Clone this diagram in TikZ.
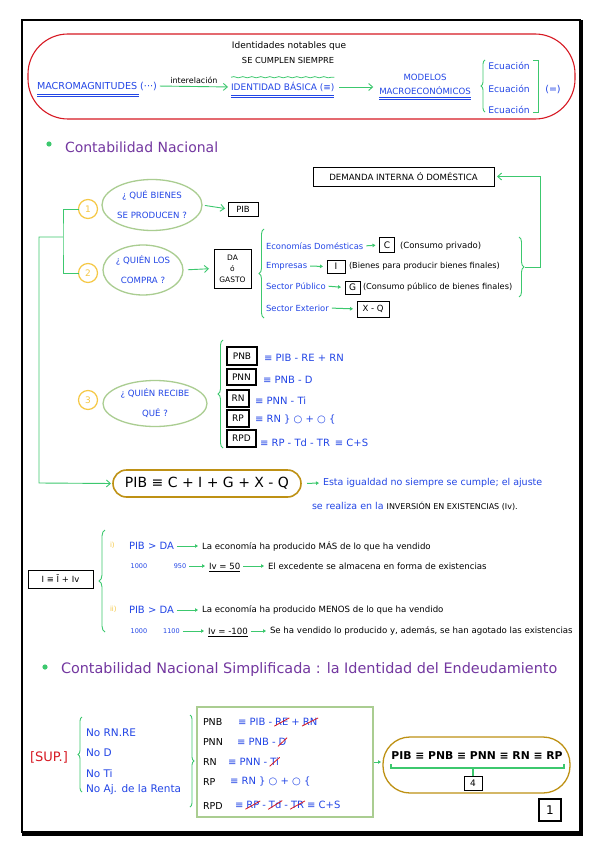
\documentclass[tikz,border=0pt]{standalone}
\usepackage{fontspec}
\setmainfont{DejaVu Sans}
\usetikzlibrary{arrows.meta,shapes.geometric,decorations.pathreplacing,decorations.pathmorphing,calc}
\definecolor{cblue}{RGB}{35,70,230}
\definecolor{cgreen}{RGB}{60,200,110}
\definecolor{csage}{RGB}{170,205,145}
\definecolor{cyel}{RGB}{245,200,70}
\definecolor{cgold}{RGB}{190,145,20}
\definecolor{cpurp}{RGB}{115,55,160}
\definecolor{cred}{RGB}{215,25,35}
\newcommand\fs[2]{\fontsize{#1}{#2}\selectfont}
\begin{document}
\begin{tikzpicture}[x=1pt,y=-1pt,
  every node/.style={inner sep=0pt,outer sep=0pt},
  blu/.style={text=cblue},
  gl/.style={draw=cgreen,line width=0.9pt},
  ga/.style={gl,-{Straight Barb[length=4pt,width=7pt]}},
  sa/.style={draw=cgreen,line width=1pt,-{Triangle[length=3pt,width=3.5pt]},shorten <=3pt,shorten >=4pt},
  box/.style={draw=black,line width=0.9pt},
  tbox/.style={draw=black,line width=1.4pt,font=\fs{9}{9}},
  qell/.style={ellipse,draw=csage,line width=1.3pt,text=cblue,align=center},
  num/.style={circle,draw=cyel,line width=1.2pt,text=cyel,minimum size=19pt,font=\fs{9}{9}},
  brl/.style={draw=cgreen,line width=0.9pt,decorate,decoration={brace,amplitude=5pt}},
  strike/.style={draw=cred,line width=0.8pt,shorten <=-1pt,shorten >=-1pt},
  ul/.style={draw=cblue,line width=0.8pt},
  eqt/.style={blu,font=\fs{10}{10}},
  blk/.style={font=\fs{8.6}{9}},
]
\useasboundingbox (0,0) rectangle (600,848);
\fill[white] (0,0) rectangle (600,848);
% page frame
\draw[line width=1.5pt] (22,20) rectangle (580,832);
\draw[line width=4pt] (581,20) -- (581,834) -- (22,834);

% ---------------- top red box
\draw[cred,line width=1.1pt,rounded corners=40pt] (28,34) rectangle (575,119);
\node[font=\fs{9}{9}] (idn) at (289,46) {Identidades notables que};
\node[font=\fs{8.3}{8}] (sce) at (288,60) {SE CUMPLEN SIEMPRE};
\node[blu,font=\fs{9.6}{9},anchor=west] (macro) at (37,86) {MACROMAGNITUDES (···)};
\draw[ul] ([yshift=-4pt]macro.south west) -- ([yshift=-4pt,xshift=-18pt]macro.south east);
\draw[ul] ([yshift=-6pt]macro.south west) -- ([yshift=-6pt,xshift=-18pt]macro.south east);
\node[blu,font=\fs{9}{9},anchor=west] (ident) at (231,87) {IDENTIDAD BÁSICA (≡)};
\draw[ga,shorten <=3pt,shorten >=3pt] (macro.east) -- node[above=3pt,font=\fs{8}{8}] (inter) {interelación} (ident.west);
\draw[cgreen,line width=0.8pt,decorate,decoration={snake,amplitude=0.6pt,segment length=9pt}] ([yshift=5pt]ident.north west) -- ([yshift=5pt]ident.north east);
\draw[ul] ([yshift=-4pt]ident.south west) -- ([yshift=-4pt]ident.south east);
\draw[ul] ([yshift=-6pt]ident.south west) -- ([yshift=-6pt]ident.south east);
\node[blu,font=\fs{8.6}{14},align=center] (model) at (425,84) {MODELOS\\MACROECONÓMICOS};
\draw[ga,shorten <=5pt,shorten >=6pt] (ident.east) -- (ident.east -| model.west);
\draw[ul] ([yshift=-3pt]model.south west) -- ([yshift=-3pt]model.south east);
\draw[ul] ([yshift=-5pt]model.south west) -- ([yshift=-5pt]model.south east);
\draw[brl,decoration={brace,amplitude=4pt}] (485,112) -- (485,60);
\node[blu,font=\fs{9.2}{9}] (ec1) at (509,66) {Ecuación};
\node[blu,font=\fs{9.2}{9}] (ec2) at (509,89) {Ecuación};
\node[blu,font=\fs{9.2}{9}] (ec3) at (509,110) {Ecuación};
\draw[gl] (533,60) -- (538,60) -- (538,112) -- (533,112);
\node[blu,font=\fs{9.5}{9}] (eqs) at (553,90) {(=)};

% ---------------- Contabilidad Nacional
\fill[cgreen] (49,144) circle (2.6pt);
\node[text=cpurp,font=\fs{14}{15},anchor=west] (h1) at (65,147) {Contabilidad Nacional};

\node[box,minimum width=181pt,minimum height=19pt,font=\fs{8.6}{8}] (dem) at (403.5,176.5) {DEMANDA INTERNA Ó DOMÉSTICA};

\node[num] (c1) at (88,209) {1};
\node[num] (c2) at (88,273) {2};
\node[num] (c3) at (88,400) {3};
\node[qell,minimum width=100pt,minimum height=51pt,font=\fs{8.6}{20}] (q1) at (152,205) {¿ QUÉ BIENES\\SE PRODUCEN ?};
\node[qell,minimum width=80pt,minimum height=50pt,font=\fs{8.6}{20}] (q2) at (143,270) {¿ QUIÉN LOS\\COMPRA ?};
\node[qell,minimum width=104pt,minimum height=46pt,font=\fs{8.6}{20}] (q3) at (155,403.5) {¿ QUIÉN RECIBE\\QUÉ ?};

\node[box,minimum width=30pt,minimum height=14pt,font=\fs{8.5}{8}] (pib) at (243,209) {PIB};
\node[box,minimum width=37pt,minimum height=39pt,align=center,font=\fs{7.5}{11}] (da) at (232.5,268.5) {DA\\ó\\GASTO};
\draw[ga,shorten <=3pt,shorten >=3pt] (q1.east) -- (pib.west);
\draw[ga,shorten <=5pt,shorten >=5pt] (q2.east) -- (da.west);

% tree
\coordinate (j1) at (63,237);
\coordinate (j0) at (39,237);
\coordinate (j2) at (39,483);
\draw[gl] (c1.west) -| (j1) |- (c2.west);

% components of demand
\draw[brl] (264,318) -- (264,229);
\node[blu,font=\fs{8.4}{9},anchor=west] (e1) at (266,246) {Economías Domésticas};
\node[box,minimum width=15pt,minimum height=15pt,font=\fs{9}{9}] (bC) at (387,245) {C};
\node[font=\fs{8.5}{9},anchor=west] (t1) at (400,246) {(Consumo privado)};
\draw[sa] (e1.east) -- (bC.west);
\node[blu,font=\fs{8.4}{9},anchor=west] (e2) at (266,266) {Empresas};
\node[box,minimum width=18pt,minimum height=13pt,font=\fs{9}{9}] (bI) at (336,266.5) {I};
\node[font=\fs{8.2}{9},anchor=west] (t2) at (349,266) {(Bienes para producir bienes finales)};
\draw[sa] (e2.east) -- (bI.west);
\node[blu,font=\fs{8.4}{9},anchor=west] (e3) at (266,286) {Sector Público};
\node[box,minimum width=15pt,minimum height=13pt,font=\fs{9}{9}] (bG) at (352.5,287.5) {G};
\node[font=\fs{8.2}{9},anchor=west] (t3) at (363,287) {(Consumo público de bienes finales)};
\draw[sa] (e3.east) -- (bG.west);
\node[blu,font=\fs{8.4}{9},anchor=west] (e4) at (266,308) {Sector Exterior};
\node[box,minimum width=32pt,minimum height=16pt,font=\fs{8.5}{9}] (bXQ) at (373,309) {X - Q};
\draw[sa] (e4.east) -- (bXQ.west);
\draw[brl] (519,237) -- (519,297);
\coordinate (bt) at (525,267);
\draw[ga,shorten >=3pt] (bt) -- (540,267) |- (dem.east);

% who receives
\draw[brl] (223,448) -- (223,340);
\node[tbox,minimum width=30pt,minimum height=18pt] (bPNB) at (242,356) {PNB};
\node[eqt,anchor=west] (ePNB) at (264,358) {≡ PIB - RE + RN};
\node[tbox,minimum width=29pt,minimum height=16pt] (bPNN) at (241.5,377) {PNN};
\node[eqt,anchor=west] (ePNN) at (263,380) {≡ PNB - D};
\node[tbox,minimum width=22pt,minimum height=17pt] (bRN) at (238,398.5) {RN};
\node[eqt,anchor=west] (eRN) at (255,401) {≡ PNN - Ti};
\node[tbox,minimum width=22pt,minimum height=17pt] (bRP) at (238,418.5) {RP};
\node[eqt,anchor=west] (eRP) at (255,420) {≡ RN \} ○ + ○ \{};
\node[tbox,minimum width=29pt,minimum height=17pt] (bRPD) at (241.5,438.5) {RPD};
\node[eqt,anchor=west] (eRPD) at (260,443) {≡ RP - Td - TR \,≡ C+S};

% PIB identity
\node[draw=cgold,line width=1.6pt,rounded corners=13.5pt,minimum width=188pt,minimum height=27pt,font=\fs{14}{14}] (pibeq) at (207,483.5) {PIB ≡ C + I + G + X - Q};
\draw[ga,shorten >=2pt] (j1) -- (j0) -- (j2) -- (pibeq.west);
\node[blu,anchor=west,font=\fs{9.5}{9}] (esta) at (323,483) {Esta igualdad no siempre se cumple; el ajuste};
\draw[sa,shorten <=6pt] (pibeq.east) -- (esta.west);
\node[blu,anchor=west,font=\fs{9.5}{9}] (real) at (312,506) {se realiza en la {\color{black}\fs{8}{8}INVERSIÓN EN EXISTENCIAS (Iv).}};

% inventory
\node[box,minimum width=65pt,minimum height=18pt,font=\fs{8.5}{9}] (ieq) at (60.5,579) {I ≡ Ī + Iv};
\draw[brl,decoration={brace,amplitude=6pt}] (105,632) -- (105,530);
\node[text=cyel,anchor=west,font=\fs{7}{8}] (r1) at (110,545) {i)};
\node[blu,anchor=west,font=\fs{10}{10}] (p1) at (129,546) {PIB > DA};
\node[blk,anchor=west] (l1) at (202,546) {La economía ha producido MÁS de lo que ha vendido};
\draw[sa] (p1.east) -- (l1.west);
\node[blu,font=\fs{6.5}{7}] (n1) at (139,566) {1000};
\node[blu,font=\fs{6.5}{7}] (n2) at (180,566) {950};
\node[blk,anchor=west] (iv1) at (209,566) {Iv = 50};
\draw[line width=0.8pt] ([yshift=-2pt]iv1.south west) -- ([yshift=-2pt]iv1.south east);
\draw[sa] (n2.east) -- (iv1.west);
\node[blk,anchor=west] (ex1) at (268,566) {El excedente se almacena en forma de existencias};
\draw[sa] (iv1.east) -- (ex1.west);
\node[text=cyel,anchor=west,font=\fs{7}{8}] (r2) at (110,609) {ii)};
\node[blu,anchor=west,font=\fs{10}{10}] (p2) at (129,610) {PIB > DA};
\node[blk,anchor=west] (l2) at (202,610) {La economía ha producido MENOS de lo que ha vendido};
\draw[sa] (p2.east) -- (l2.west);
\node[blu,font=\fs{6.5}{7}] (n3) at (139,631) {1000};
\node[blu,font=\fs{6.5}{7}] (n4) at (171.5,631) {1100};
\node[blk,anchor=west] (iv2) at (208,631) {Iv = -100};
\draw[line width=0.8pt] ([yshift=-2pt]iv2.south west) -- ([yshift=-2pt]iv2.south east);
\draw[sa] (n4.east) -- (iv2.west);
\node[blk,anchor=west] (ex2) at (270,631) {Se ha vendido lo producido y, además, se han agotado las existencias};
\draw[sa] (iv2.east) -- (ex2.west);

% ---------------- Contabilidad Nacional Simplificada
\fill[cgreen] (45,667) circle (2.6pt);
\node[text=cpurp,font=\fs{14.4}{15},anchor=west] (h2) at (61,670) {Contabilidad Nacional Simplificada : la Identidad del Endeudamiento};

\node[text=cred,font=\fs{13}{13}] (sup) at (49,757) {[SUP.]};
\draw[brl,decoration={brace,amplitude=4pt}] (82,792) -- (82,717);
\node[blu,anchor=west,font=\fs{10.5}{11}] (s1) at (86,733) {No RN.RE};
\node[blu,anchor=west,font=\fs{10.5}{11}] (s2) at (86,753) {No D};
\node[blu,anchor=west,font=\fs{10.5}{11}] (s3) at (86,774) {No Ti};
\node[blu,anchor=west,font=\fs{10.5}{11}] (s4) at (86,790) {No Aj. de la Renta};
\draw[brl,decoration={brace,amplitude=4pt}] (190,715) -- (190,807);

\node[draw=csage,line width=1.3pt,minimum width=176pt,minimum height=110pt] (rect) at (285,762) {};
\node[anchor=west,font=\fs{9.5}{10}] (k1) at (203,722) {PNB};
\node[anchor=west,font=\fs{9.5}{10}] (k2) at (203,742) {PNN};
\node[anchor=west,font=\fs{9.5}{10}] (k3) at (203,762) {RN};
\node[anchor=west,font=\fs{9.5}{10}] (k4) at (203,782) {RP};
\node[anchor=west,font=\fs{9.5}{10}] (k5) at (203,806) {RPD};
% line 1
\node[eqt,anchor=west] (a1) at (238,722) {≡ PIB -};
\node[eqt,anchor=base west] (a2) at ([xshift=3pt]a1.base east) {RE};
\node[eqt,anchor=base west] (a3) at ([xshift=3pt]a2.base east) {+};
\node[eqt,anchor=base west] (a4) at ([xshift=3pt]a3.base east) {RN};
\draw[strike] (a2.south west) -- (a2.north east);
\draw[strike] (a4.south west) -- (a4.north east);
% line 2
\node[eqt,anchor=west] (b1) at (237,742) {≡ PNB -};
\node[eqt,anchor=base west] (b2) at ([xshift=3pt]b1.base east) {D};
\draw[strike] (b2.south west) -- (b2.north east);
% line 3
\node[eqt,anchor=west] (d1) at (228,762) {≡ PNN -};
\node[eqt,anchor=base west] (d2) at ([xshift=3pt]d1.base east) {Ti};
\draw[strike] (d2.south west) -- (d2.north east);
% line 4
\node[eqt,anchor=west] (f1) at (230,782) {≡ RN \} ○ + ○ \{};
% line 5
\node[eqt,anchor=west] (g1) at (235,806) {≡};
\node[eqt,anchor=base west] (g2) at ([xshift=3pt]g1.base east) {RP};
\node[eqt,anchor=base west] (g3) at ([xshift=3pt]g2.base east) {-};
\node[eqt,anchor=base west] (g4) at ([xshift=3pt]g3.base east) {Td};
\node[eqt,anchor=base west] (g5) at ([xshift=3pt]g4.base east) {-};
\node[eqt,anchor=base west] (g6) at ([xshift=3pt]g5.base east) {TR};
\node[eqt,anchor=base west] (g7) at ([xshift=3pt]g6.base east) {≡ C+S};
\draw[strike] (g2.south west) -- (g2.north east);
\draw[strike] (g4.south west) -- (g4.north east);
\draw[strike] (g6.south west) -- (g6.north east);

\node[draw=cgold,line width=1.3pt,rounded corners=27pt,minimum width=187pt,minimum height=56pt] (stad) at (476.5,765) {};
\draw[sa,shorten <=1pt,shorten >=2pt] (rect.east) -- (rect.east -| stad.west);
\node[font=\bfseries\fs{10.8}{10}] (ideq) at (477,756) {PIB ≡ PNB ≡ PNN ≡ RN ≡ RP};
\node[box,minimum width=18pt,minimum height=14pt,font=\fs{9}{9}] (b4) at (473,783) {4};
\draw[gl,line width=1.3pt] (391,764) -- (391,768) -- (564,768) -- (564,764);
\draw[gl,line width=1.3pt] (473,768) -- (b4.north);
\node[draw,line width=1.5pt,minimum width=22pt,minimum height=22pt,font=\fs{12}{12}] (pg) at (550,810) {1};
\end{tikzpicture}
\end{document}
